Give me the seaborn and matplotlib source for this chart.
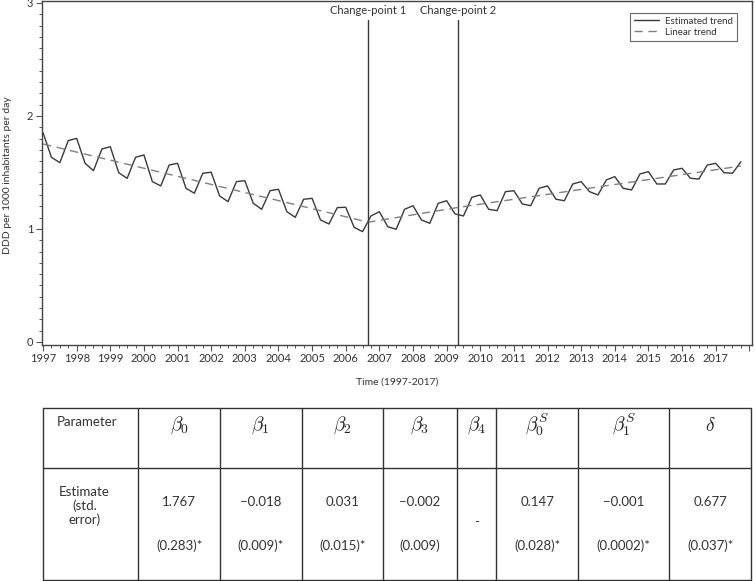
import numpy as np
import pandas as pd
import matplotlib
matplotlib.use("Agg")
import matplotlib.pyplot as plt
from matplotlib.ticker import MultipleLocator, FixedLocator
import seaborn as sns

# данные: квартальные значения тренда (1997 Q1 - 2017 Q4)
years = list(range(1997, 2018))
estimated = [
    1.852, 1.634, 1.587, 1.782,
    1.802, 1.581, 1.516, 1.708,
    1.728, 1.498, 1.448, 1.634,
    1.655, 1.419, 1.381, 1.566,
    1.581, 1.360, 1.316, 1.493,
    1.502, 1.292, 1.242, 1.419,
    1.427, 1.227, 1.174, 1.339,
    1.351, 1.153, 1.103, 1.263,
    1.271, 1.080, 1.044, 1.189,
    1.192, 1.015, 0.976, 1.115,
    1.153, 1.020, 0.997, 1.174,
    1.206, 1.080, 1.050, 1.227,
    1.250, 1.133, 1.115, 1.280,
    1.301, 1.174, 1.162, 1.330,
    1.339, 1.221, 1.206, 1.360,
    1.381, 1.263, 1.250, 1.398,
    1.419, 1.330, 1.301, 1.434,
    1.463, 1.360, 1.345, 1.487,
    1.507, 1.398, 1.398, 1.522,
    1.537, 1.449, 1.442, 1.566,
    1.581, 1.498, 1.493, 1.595,
]
time = [y + q / 4 for y in years for q in range(4)]

# линейный тренд: точки излома
linear_time = [1997.0, 2006.67, 2009.33, 2017.75]
linear_vals = [1.752, 1.060, 1.190, 1.557]

change_points = [2006.67, 2009.33]
change_labels = ["Change-point 1", "Change-point 2"]

# таблица параметров
params = [r"$\beta_0$", r"$\beta_1$", r"$\beta_2$", r"$\beta_3$", r"$\beta_4$",
          r"$\beta_0^S$", r"$\beta_1^S$", r"$\delta$"]
estimates = ["1.767", "\u22120.018", "0.031", "\u22120.002", "-",
             "0.147", "\u22120.001", "0.677"]
std_errors = ["(0.283)*", "(0.009)*", "(0.015)*", "(0.009)", "",
              "(0.028)*", "(0.0002)*", "(0.037)*"]

sns.set_style("ticks")
plt.rcParams["font.family"] = ["Lato", "DejaVu Sans"]
plt.rcParams["mathtext.fontset"] = "cm"

W, H = 755, 581
fig = plt.figure(figsize=(W / 100, H / 100), dpi=100)

# таблица в пиксельных координатах
axt = fig.add_axes([0, 0, 1, 1], zorder=0)
axt.set_xlim(0, W)
axt.set_ylim(H, 0)
axt.axis("off")

col_edges = [42.7, 138.3, 220, 301.7, 383.3, 456.7, 496, 578.3, 669.3, 751]
row_edges = [408, 468, 580]
lc = "#333333"
for x in col_edges:
    axt.plot([x, x], [row_edges[0], row_edges[-1]], color=lc, lw=1.0)
for y in row_edges:
    axt.plot([col_edges[0], col_edges[-1]], [y, y], color=lc, lw=1.0)

tc = "#333333"
centers = [(col_edges[i] + col_edges[i + 1]) / 2 for i in range(len(col_edges) - 1)]
axt.text(centers[0] - 4, 422, "Parameter", ha="center", va="center", fontsize=9.5, color=tc)
axt.text(centers[0] - 6, 506, "Estimate\n(std.\nerror)", ha="center", va="center",
         fontsize=9.5, color=tc, linespacing=1.15, multialignment="center")
for i, (p, e, s) in enumerate(zip(params, estimates, std_errors)):
    cx = centers[i + 1]
    axt.text(cx, 425, p, ha="center", va="center", fontsize=14, color="#222222")
    if s:
        axt.text(cx, 502, e, ha="center", va="center", fontsize=9.5, color=tc)
        axt.text(cx, 546, s, ha="center", va="center", fontsize=9.5, color=tc)
    else:
        axt.text(cx, 522, e, ha="center", va="center", fontsize=9.5, color=tc)

# основной график
ax = fig.add_axes([41.7 / W, 1 - 345 / H, (752 - 41.7) / W, (345 - 0.5) / H], zorder=1)
df_est = pd.DataFrame({"time": time, "value": estimated})
df_lin = pd.DataFrame({"time": linear_time, "value": linear_vals})
sns.lineplot(data=df_est, x="time", y="value", ax=ax, color="#3a3a3a", lw=1.0,
             label="Estimated trend")
sns.lineplot(data=df_lin, x="time", y="value", ax=ax, color="#808080", lw=1.0,
             linestyle=(0, (6, 4)), label="Linear trend")

ax.set_xlim(1996.96, 2018.08)
ax.set_ylim(-0.027, 3.022)

for cp, lab in zip(change_points, change_labels):
    ax.plot([cp, cp], [-0.027, 2.85], color="#3a3a3a", lw=1.0)
    ax.text(cp, 2.93, lab, ha="center", va="center", fontsize=8, color=tc)

ax.xaxis.set_major_locator(FixedLocator(list(range(1997, 2019))))
ax.set_xticklabels([str(y) for y in years] + [""])
ax.xaxis.set_minor_locator(MultipleLocator(0.25))
ax.yaxis.set_major_locator(FixedLocator([0, 1, 2, 3]))
ax.yaxis.set_minor_locator(MultipleLocator(0.1))
ax.tick_params(which="major", length=4, width=0.8, color="#555555", labelsize=8,
               labelcolor=tc, pad=2)
ax.tick_params(which="minor", length=2, width=0.7, color="#555555")
ax.set_xlabel("")
ax.set_ylabel("")
for sp in ax.spines.values():
    sp.set_color("#444444")
    sp.set_linewidth(1.0)
    sp.set_visible(True)

leg = ax.legend(loc="upper right", bbox_to_anchor=(737 / W, 1 - 13 / H),
                bbox_transform=fig.transFigure, borderaxespad=0, fontsize=7,
                frameon=True, fancybox=False, handlelength=2.6, handletextpad=0.6,
                borderpad=0.4, labelspacing=0.2)
leg.get_frame().set_edgecolor("#444444")
leg.get_frame().set_linewidth(0.8)
for t in leg.get_texts():
    t.set_color(tc)

fig.text(8 / W, 1 - 175 / H, "DDD per 1000 inhabitants per day", rotation=90,
         ha="center", va="center", fontsize=7.5, color=tc)
fig.text(397 / W, 1 - 382 / H, "Time (1997-2017)", ha="center", va="center",
         fontsize=7.5, color=tc)

fig.savefig("out.png", dpi=100, facecolor="white")
